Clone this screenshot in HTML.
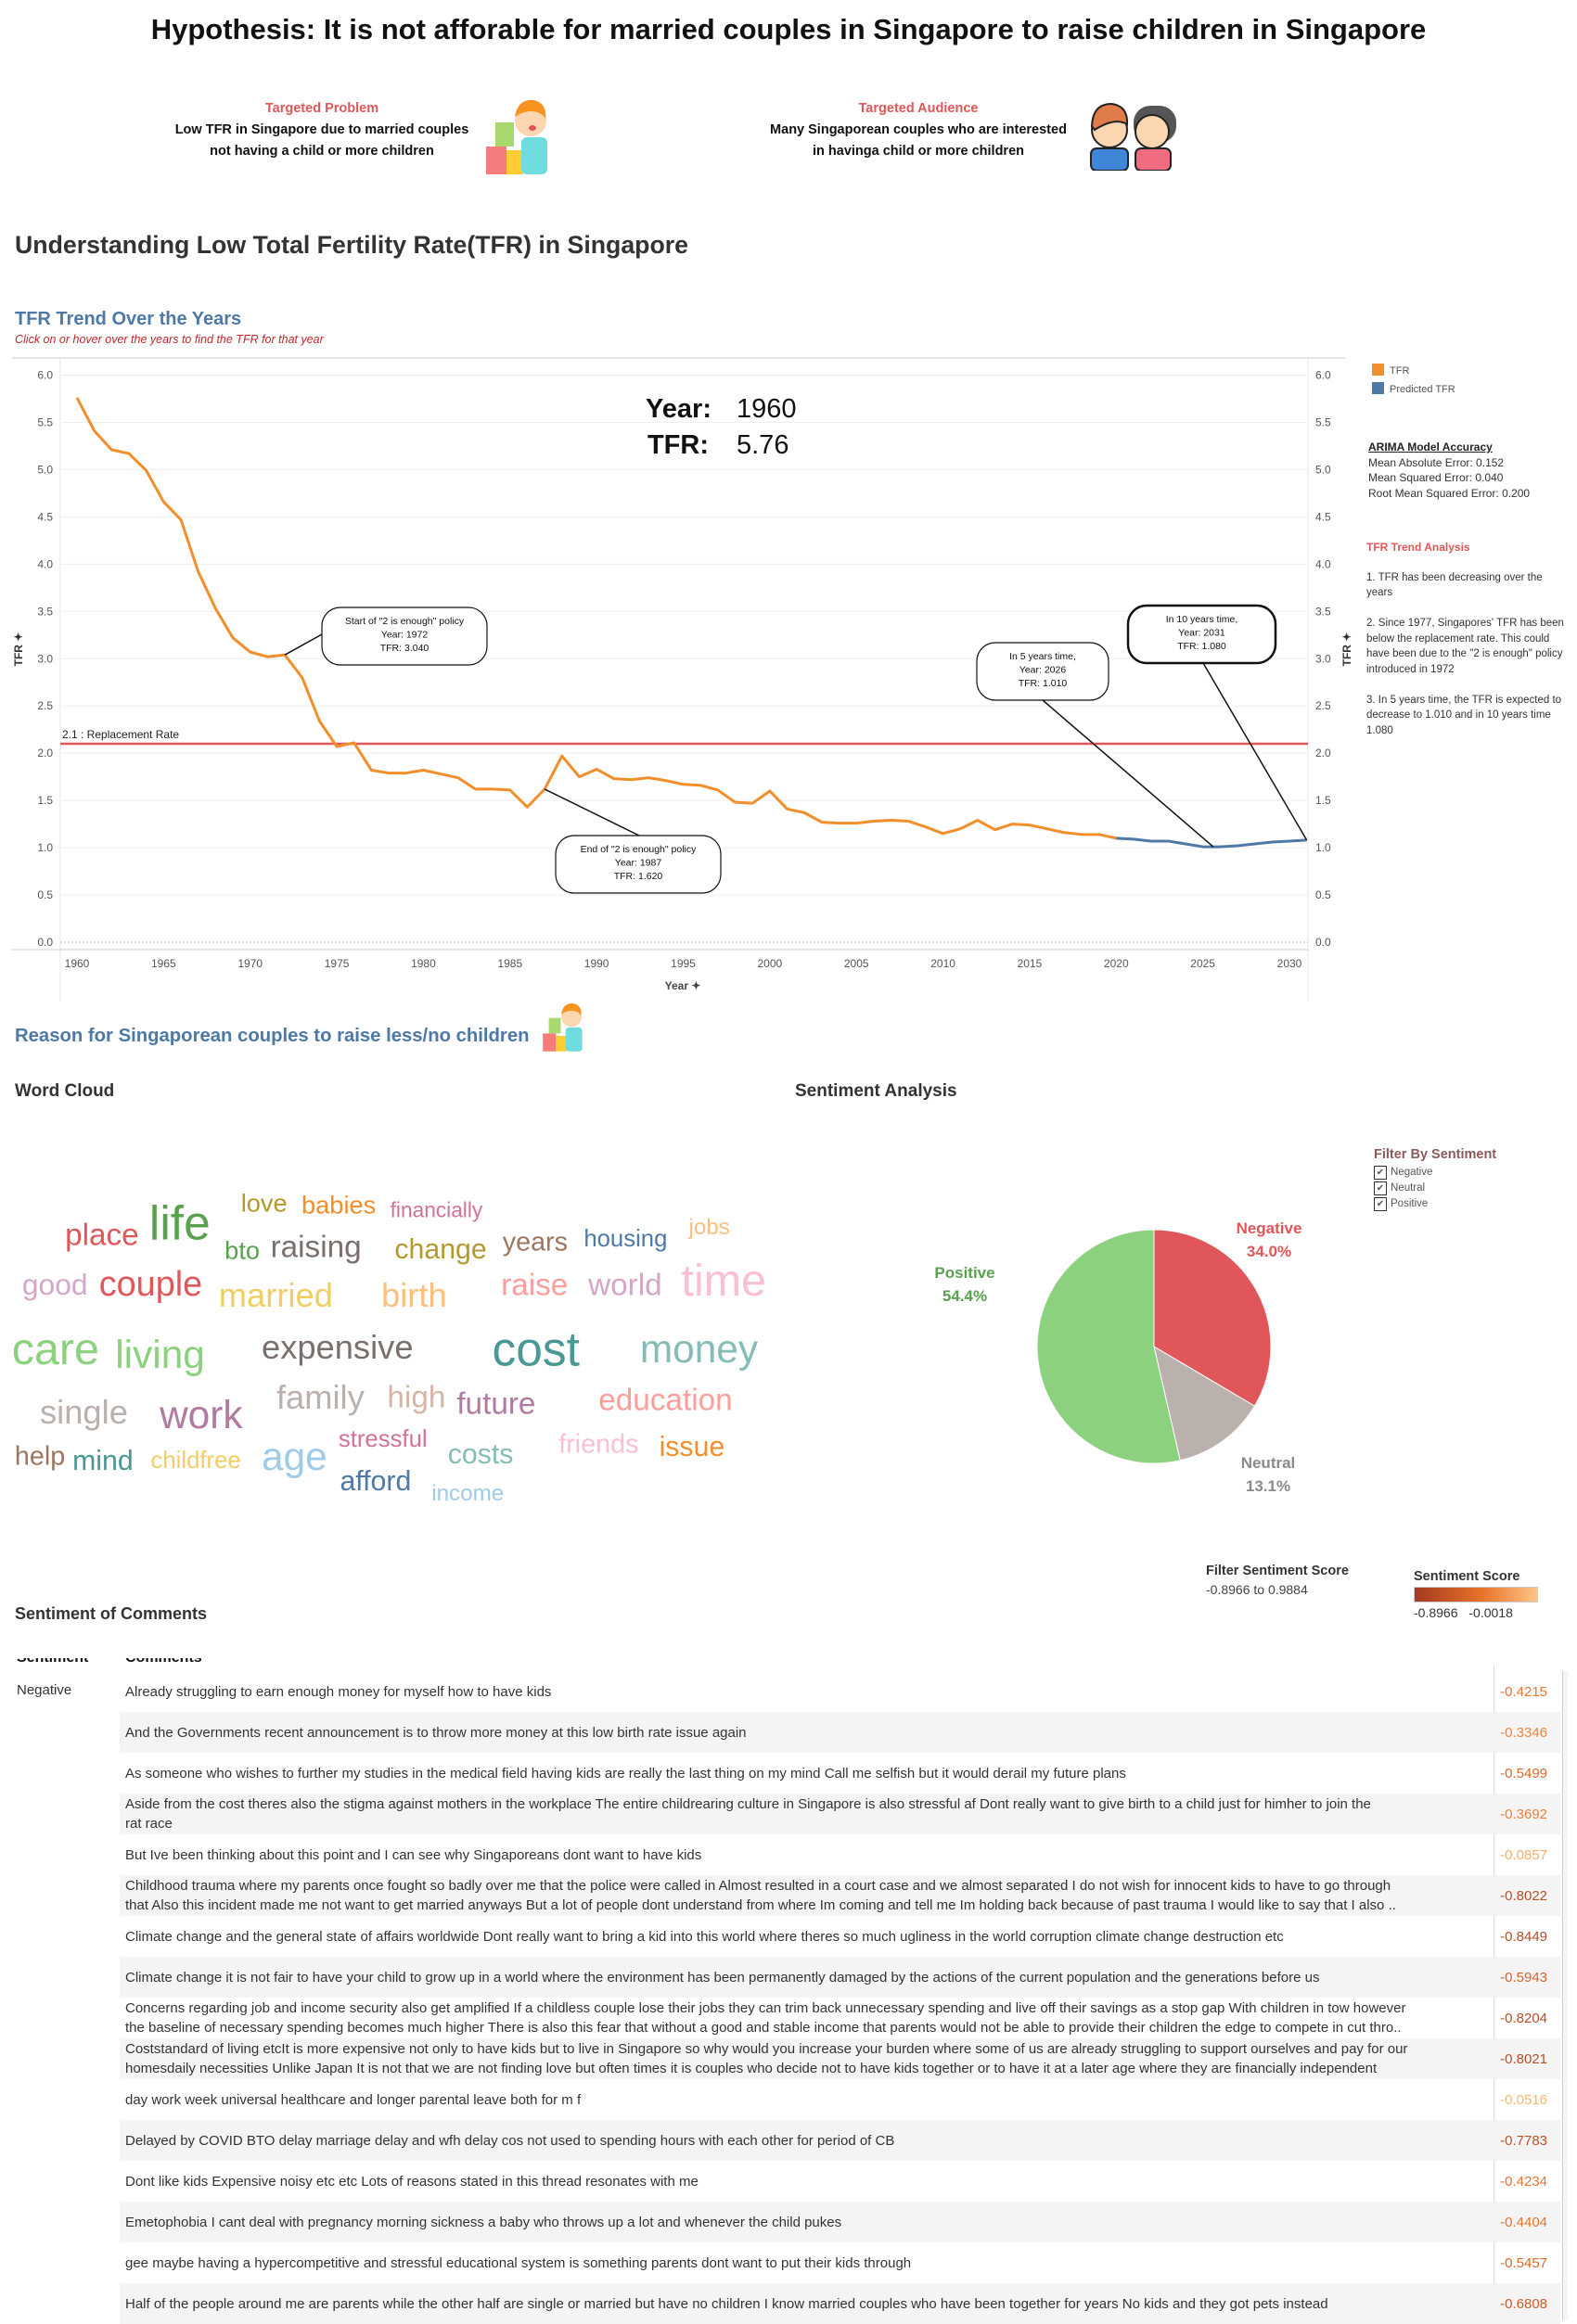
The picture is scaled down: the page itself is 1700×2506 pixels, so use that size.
<!DOCTYPE html>
<html><head><meta charset="utf-8">
<style>
*{margin:0;padding:0;box-sizing:border-box}
body{width:1700px;height:2500px;background:#fff;font-family:"Liberation Sans",sans-serif;position:relative;overflow:hidden;color:#333}
.abs{position:absolute}
.wc{position:absolute;white-space:nowrap;line-height:1;transform:translateY(-50%)}
.row{position:absolute;left:0;width:1682px;height:44px}
.row .txt{position:absolute;left:135px;top:0;height:44px;width:1470px;display:flex;align-items:center;font-size:15px;color:#333;line-height:21px;white-space:nowrap;overflow:hidden}
.row .val{position:absolute;right:14px;top:0;height:44px;display:flex;align-items:center;font-size:15px}
</style></head>
<body>
<div class="abs" style="left:0;top:14px;width:1700px;text-align:center;font-size:31px;font-weight:bold;color:#111">Hypothesis: It is not afforable for married couples in Singapore to raise children in Singapore</div>

<div class="abs" style="left:147px;top:106px;width:400px;text-align:center;font-weight:bold;font-size:14.5px;line-height:23px;color:#111">
<div style="color:#e15759">Targeted Problem</div>
<div>Low TFR in Singapore due to married couples</div><div>not having a child or more children</div></div>
<svg class="abs" style="left:522px;top:100px" width="78" height="90" viewBox="0 0 78 90">
<rect x="2" y="58" width="22" height="30" fill="#f47c7c"/><rect x="24" y="62" width="18" height="26" fill="#ffcc33"/><rect x="12" y="32" width="20" height="26" fill="#a9d86e"/>
<rect x="40" y="48" width="28" height="40" rx="6" fill="#6fdde0"/><circle cx="50" cy="30" r="17" fill="#fcd6b0"/><path d="M33 26 Q36 6 54 8 Q68 12 66 28 Q58 16 40 22Z" fill="#f7931e"/><ellipse cx="52" cy="38" rx="4" ry="3" fill="#e25555"/></svg>

<div class="abs" style="left:770px;top:106px;width:440px;text-align:center;font-weight:bold;font-size:14.5px;line-height:23px;color:#111">
<div style="color:#e15759">Targeted Audience</div>
<div>Many Singaporean couples who are interested</div><div>in havinga child or more children</div></div>
<svg class="abs" style="left:1166px;top:104px" width="106" height="80" viewBox="0 0 106 80">
<rect x="56" y="10" width="46" height="40" rx="18" fill="#555"/><circle cx="76" cy="38" r="18" fill="#fcd6b0" stroke="#222" stroke-width="2"/><rect x="58" y="56" width="38" height="24" rx="6" fill="#f06b7e" stroke="#222" stroke-width="2"/>
<circle cx="30" cy="36" r="19" fill="#fcd6b0" stroke="#222" stroke-width="2"/><path d="M11 32 Q12 8 32 8 Q50 10 49 30 Q36 22 14 36Z" fill="#e07b4a" stroke="#222" stroke-width="2"/><rect x="10" y="56" width="40" height="24" rx="6" fill="#3f86d8" stroke="#222" stroke-width="2"/></svg>

<div class="abs" style="left:16px;top:249px;font-size:26.7px;font-weight:bold;color:#333">Understanding Low Total Fertility Rate(TFR) in Singapore</div>
<div class="abs" style="left:16px;top:333px;font-size:20px;font-weight:bold;color:#4e79a7">TFR Trend Over the Years</div>
<div class="abs" style="left:16px;top:359px;font-size:12.5px;font-style:italic;color:#c0282d">Click on or hover over the years to find the TFR for that year</div>

<svg id="chart" class="abs" style="left:0;top:0" width="1460" height="1090"></svg>

<div class="abs" style="left:1479px;top:390px;font-size:11px;color:#555;line-height:20px">
<div><span style="display:inline-block;width:13px;height:13px;background:#f28e2b;vertical-align:-2px;margin-right:6px"></span>TFR</div>
<div><span style="display:inline-block;width:13px;height:13px;background:#4e79a7;vertical-align:-2px;margin-right:6px"></span>Predicted TFR</div></div>
<div class="abs" style="left:1475px;top:474px;font-size:12px;line-height:16.5px;color:#333">
<div style="text-decoration:underline;font-weight:bold;color:#222">ARIMA Model Accuracy</div>
<div>Mean Absolute Error: 0.152</div><div>Mean Squared Error: 0.040</div><div>Root Mean Squared Error: 0.200</div></div>
<div class="abs" style="left:1473px;top:582px;width:218px;font-size:11.5px;line-height:16.5px;color:#333">
<div style="color:#e15759;font-weight:bold;margin-bottom:16px;font-size:12px">TFR Trend Analysis</div>
<div>1. TFR has been decreasing over the years</div><br>
<div>2. Since 1977, Singapores' TFR has been below the replacement rate. This could have been due to the "2 is enough" policy introduced in 1972</div><br>
<div>3. In 5 years time, the TFR is expected to decrease to 1.010 and in 10 years time 1.080</div></div>

<div class="abs" style="left:16px;top:1106px;font-size:20.3px;font-weight:bold;color:#4e79a7">Reason for Singaporean couples to raise less/no children</div>
<svg class="abs" style="left:583px;top:1077px" width="52" height="58" viewBox="0 0 78 90">
<rect x="2" y="58" width="22" height="30" fill="#f47c7c"/><rect x="24" y="62" width="18" height="26" fill="#ffcc33"/><rect x="12" y="32" width="20" height="26" fill="#a9d86e"/>
<rect x="40" y="48" width="28" height="40" rx="6" fill="#6fdde0"/><circle cx="50" cy="30" r="17" fill="#fcd6b0"/><path d="M33 26 Q36 6 54 8 Q68 12 66 28 Q58 16 40 22Z" fill="#f7931e"/></svg>

<div class="abs" style="left:16px;top:1166px;font-size:19px;font-weight:bold;color:#333">Word Cloud</div>
<div class="abs" style="left:857px;top:1166px;font-size:19px;font-weight:bold;color:#333">Sentiment Analysis</div>

<div id="cloud"></div>

<svg id="pie" class="abs" style="left:1100px;top:1300px" width="320" height="320"></svg>
<div class="abs" style="left:1298px;top:1312px;width:140px;text-align:center;font-weight:bold;font-size:17px;line-height:25px;color:#e15759">Negative<br>34.0%</div>
<div class="abs" style="left:970px;top:1360px;width:140px;text-align:center;font-weight:bold;font-size:17px;line-height:25px;color:#59a14f">Positive<br>54.4%</div>
<div class="abs" style="left:1297px;top:1565px;width:140px;text-align:center;font-weight:bold;font-size:17px;line-height:25px;color:#8a8a8a">Neutral<br>13.1%</div>

<div class="abs" style="left:1481px;top:1237px;font-size:11.5px;color:#555;line-height:17px">
<div style="font-weight:bold;font-size:14.5px;color:#8c5a5a;margin-bottom:2px">Filter By Sentiment</div>
<div><span style="display:inline-block;width:14px;height:15px;border:1px solid #333;font-size:10px;text-align:center;line-height:13px;margin-right:4px">✔</span>Negative</div>
<div><span style="display:inline-block;width:14px;height:15px;border:1px solid #333;font-size:10px;text-align:center;line-height:13px;margin-right:4px">✔</span>Neutral</div>
<div><span style="display:inline-block;width:14px;height:15px;border:1px solid #333;font-size:10px;text-align:center;line-height:13px;margin-right:4px">✔</span>Positive</div></div>

<div class="abs" style="left:1300px;top:1686px;font-size:14.5px;color:#333">
<div style="font-weight:bold">Filter Sentiment Score</div><div style="font-size:14px;margin-top:4px;color:#444">-0.8966 to 0.9884</div></div>
<div class="abs" style="left:1524px;top:1692px;font-size:14px;color:#333">
<div style="font-weight:bold;font-size:14.5px">Sentiment Score</div>
<div style="width:134px;height:17px;margin-top:3px;border:1px solid #ccc;background:linear-gradient(to right,#a3391f,#e8732a 55%,#fdc486)"></div>
<div style="margin-top:3px;word-spacing:8px">-0.8966 -0.0018</div></div>

<div class="abs" style="left:16px;top:1730px;font-size:18px;font-weight:bold;color:#333">Sentiment of Comments</div>

<div class="abs" style="left:0;top:1788px;width:1700px;height:10px;overflow:hidden">
<div style="position:absolute;left:18px;top:-9px;font-weight:bold;font-size:16px;color:#111">Sentiment</div>
<div style="position:absolute;left:135px;top:-9px;font-weight:bold;font-size:16px;color:#111">Comments</div></div>
<div class="abs" style="left:1610px;top:1795px;width:1px;height:705px;background:#ddd"></div>
<div class="abs" style="left:1684px;top:1802px;width:6px;height:700px;border-left:1px solid #ccc;background:#f5f5f5"></div>
<div class="abs" style="left:18px;top:1814px;font-size:15px;color:#333">Negative</div>
<div id="table"></div>

<script>
// ---- TFR chart data ----
const years = [];
for (let y = 1960; y <= 2020; y++) years.push(y);
const tfr = [5.76,5.41,5.21,5.17,4.99,4.66,4.47,3.92,3.53,3.22,3.07,3.02,3.04,2.80,2.34,2.07,2.11,1.82,1.79,1.79,1.82,1.78,1.74,1.62,1.62,1.61,1.43,1.62,1.97,1.75,1.83,1.73,1.72,1.74,1.71,1.67,1.66,1.61,1.48,1.47,1.60,1.41,1.37,1.27,1.26,1.26,1.28,1.29,1.28,1.22,1.15,1.20,1.29,1.19,1.25,1.24,1.20,1.16,1.14,1.14,1.10];
const predYears = [2020,2021,2022,2023,2024,2025,2026,2027,2028,2029,2030,2031];
const predTfr = [1.10,1.09,1.07,1.07,1.04,1.01,1.01,1.02,1.04,1.06,1.07,1.08];
const yTicks = [0,0.5,1,1.5,2,2.5,3,3.5,4,4.5,5,5.5,6];
const yTickLabels = ["0.0","0.5","1.0","1.5","2.0","2.5","3.0","3.5","4.0","4.5","5.0","5.5","6.0"];
const xTicks = [1960,1965,1970,1975,1980,1985,1990,1995,2000,2005,2010,2015,2020,2025,2030];
const replacementRate = 2.1;

const X0 = 65, X1 = 1410, Y0 = 1016, YTOP = 404.5;
function xs(yr){ return 83 + (yr - 1960) * (1390 - 83) / 70; }
function ys(v){ return Y0 - v * (Y0 - YTOP) / 6; }

const NS = "http://www.w3.org/2000/svg";
const svg = document.getElementById('chart');
function mk(tag, attrs, parent){
  const e = document.createElementNS(NS, tag);
  for (const k in attrs) e.setAttribute(k, attrs[k]);
  (parent || svg).appendChild(e);
  return e;
}
let fr = mk('line',{x1:13,y1:386,x2:1450,y2:386,stroke:'#ddd','stroke-width':1.5});
 
let lax = mk('line',{x1:X0,y1:386,x2:X0,y2:1080,stroke:'#e4e4e4','stroke-width':1});
 
let rax = mk('line',{x1:X1,y1:386,x2:X1,y2:1080,stroke:'#e4e4e4','stroke-width':1});
 
let bax = mk('line',{x1:13,y1:1024,x2:X1,y2:1024,stroke:'#ccc','stroke-width':1});
 

yTicks.forEach((v,i)=>{
  const g = mk('line',{x1:X0,y1:ys(v),x2:X1,y2:ys(v),stroke: v===0?'#bbb':'#efefef','stroke-width':1,'stroke-dasharray': v===0?'2,2':''});
   
  const t = mk('text',{x:57,y:ys(v)+4,'text-anchor':'end','font-size':12,fill:'#555'});
  t.textContent = yTickLabels[i];
   
  const t2 = mk('text',{x:1418,y:ys(v)+4,'font-size':12,fill:'#555'});
  t2.textContent = yTickLabels[i];
   
});
xTicks.forEach(yr=>{
  const t = mk('text',{x:xs(yr),y:1043,'text-anchor':'middle','font-size':12,fill:'#555'});
  t.textContent = yr;
   
});
let xt = mk('text',{x:736,y:1067,'text-anchor':'middle','font-size':12,'font-weight':'bold',fill:'#444'});
xt.textContent = 'Year ✦';
 
let yt = mk('text',{x:24,y:700,'text-anchor':'middle','font-size':12,'font-weight':'bold',fill:'#333',transform:'rotate(-90 24 700)'});
yt.textContent = 'TFR ✦';
 
let yt2 = mk('text',{x:1456,y:700,'text-anchor':'middle','font-size':12,'font-weight':'bold',fill:'#333',transform:'rotate(-90 1456 700)'});
yt2.textContent = 'TFR ✦';
 

let rl = mk('line',{x1:X0,y1:ys(replacementRate),x2:X1,y2:ys(replacementRate),stroke:'#e15759','stroke-width':2.5});
 
let rlt = mk('text',{x:67,y:ys(replacementRate)-6,'font-size':12,fill:'#222'});
rlt.textContent = '2.1  : Replacement Rate';
 

const p1 = mk('polyline',{points: years.map((y,i)=>xs(y)+','+ys(tfr[i])).join(' '),fill:'none',stroke:'#f28e2b','stroke-width':3,'stroke-linejoin':'round'});
 
const p2 = mk('polyline',{points: predYears.map((y,i)=>xs(y)+','+ys(predTfr[i])).join(' '),fill:'none',stroke:'#4e79a7','stroke-width':3,'stroke-linejoin':'round'});
 

function bigText(x,y,s,name,anchor){
  const t = mk('text',{x:x,y:y,'font-size':29,'font-weight': anchor==='end'?'bold':'normal',fill:'#111','text-anchor':anchor||'start'});
  t.textContent = s;  
}
bigText(767,450,'Year:','readout-year-label','end');
bigText(794,450,String(years[0]),'readout-year-value');
bigText(764,489,'TFR:','readout-tfr-label','end');
bigText(794,489,tfr[0].toFixed(2),'readout-tfr-value');

function annot(name,bx,by,bw,bh,lines,px,py,lx,ly,bold){
  const l = mk('line',{x1:lx,y1:ly,x2:px,y2:py,stroke:'#111','stroke-width':1.5});
   
  const r = mk('rect',{x:bx,y:by,width:bw,height:bh,rx:20,fill:'#fff',stroke:'#111','stroke-width':bold?2.5:1.2});
   
  lines.forEach((s,i)=>{
    const t = mk('text',{x:bx+bw/2,y:by+18+i*14.5,'text-anchor':'middle','font-size':10.5,fill:'#111'});
    t.textContent = s;  
  });
}
annot('annotation-policy-start',347,655,178,62,['Start of "2 is enough" policy','Year: 1972','TFR:      3.040'],xs(1972),ys(3.04),347,684);
annot('annotation-policy-end',599,901,178,62,['End of "2 is enough" policy','Year: 1987','TFR:      1.620'],xs(1987),ys(1.62),689,901);
annot('annotation-5-years',1053,693,142,62,['In 5 years time,','Year: 2026','TFR: 1.010'],xs(2025.6),ys(1.01),1124,755,false);
annot('annotation-10-years',1216,653,159,62,['In 10 years time,','Year: 2031','TFR: 1.080'],xs(2031),ys(1.08),1297,715,true);

// ---- Word cloud ----
const words = ["place","life","love","babies","financially","bto","raising","change","years","housing","jobs","good","couple","married","birth","raise","world","time","care","living","expensive","cost","money","single","work","family","high","future","education","help","mind","childfree","age","stressful","costs","friends","issue","afford","income"];
const wordSizes = [22,34,18,18,15,18,22,20,19,17,16,21,25,24,24,22,22,32,32,28,24,34,28,24,28,24,22,22,22,19,20,17,28,17,20,19,20,20,16];
const wordColors = ["#e15759","#59a14f","#b6992d","#f28e2b","#d37295","#59a14f","#79706e","#b6992d","#9d7660","#4e79a7","#ffbe7d","#d4a6c8","#e15759","#f1ce63","#ffbe7d","#ff9d9a","#d4a6c8","#fabfd2","#8cd17d","#8cd17d","#79706e","#499894","#86bcb6","#bab0ac","#b07aa1","#bab0ac","#d7b5a6","#b07aa1","#ff9d9a","#9d7660","#499894","#f1ce63","#a0cbe8","#d37295","#86bcb6","#fabfd2","#f28e2b","#4e79a7","#a0cbe8"];
const wordX = [44,101,163,204,264,152,183,267,340,395,466,15,67,148,258,339,398,461,8,78,177,333,433,27,108,187,262,309,405,10,49,102,177,229,303,378,446,230,292];
const wordY = [836,828,814,815,819,846,844,846,841,839,831,870,870,877,877,870,870,867,913,917,912,913,913,956,958,946,946,950,948,986,989,989,986,975,985,978,980,1003,1011];
const cloud = document.getElementById('cloud');
const S = 1700/1067;
words.forEach((w,i)=>{
  const d = document.createElement('div');
  d.className = 'wc';
  
  
  d.style.left = (wordX[i]*S)+'px';
  d.style.top = (wordY[i]*S)+'px';
  d.style.fontSize = (wordSizes[i]*S*0.95)+'px';
  d.style.color = wordColors[i];
  d.textContent = w;
  cloud.appendChild(d);
});

// ---- Pie ----
const pieLabels = ["Negative","Neutral","Positive"];
const pieValues = [34.0,13.1,54.4];
const pieColors = ["#e15759","#bab0ac","#8cd17d"];
const pie = document.getElementById('pie');
const cx = 144, cy = 152, R = 126;
const total = pieValues.reduce((a,b)=>a+b,0);
let ang = 0;
pieValues.forEach((v,i)=>{
  const a0 = ang, a1 = ang + v/total*2*Math.PI; ang = a1;
  const x0 = cx + R*Math.sin(a0), y0 = cy - R*Math.cos(a0);
  const x1 = cx + R*Math.sin(a1), y1 = cy - R*Math.cos(a1);
  const large = (a1-a0) > Math.PI ? 1 : 0;
  const p = document.createElementNS(NS,'path');
  p.setAttribute('d',`M${cx},${cy} L${x0},${y0} A${R},${R} 0 ${large} 1 ${x1},${y1} Z`);
  p.setAttribute('fill',pieColors[i]);
  p.setAttribute('stroke','#fff'); p.setAttribute('stroke-width','1');
  
  
  pie.appendChild(p);
});

// ---- Comments table ----
const comments = [
 ["Already struggling to earn enough money for myself how to have kids"],
 ["And the Governments recent announcement is to throw more money at this low birth rate issue again"],
 ["As someone who wishes to further my studies in the medical field having kids are really the last thing on my mind Call me selfish but it would derail my future plans"],
 ["Aside from the cost theres also the stigma against mothers in the workplace The entire childrearing culture in Singapore is also stressful af Dont really want to give birth to a child just for himher to join the","rat race"],
 ["But Ive been thinking about this point and I can see why Singaporeans dont want to have kids"],
 ["Childhood trauma where my parents once fought so badly over me that the police were called in Almost resulted in a court case and we almost separated I do not wish for innocent kids to have to go through","that Also this incident made me not want to get married anyways But a lot of people dont understand from where Im coming and tell me Im holding back because of past trauma I would like to say that I also .."],
 ["Climate change and the general state of affairs worldwide Dont really want to bring a kid into this world where theres so much ugliness in the world corruption climate change destruction etc"],
 ["Climate change  it is not fair to have your child to grow up in a world where the environment has been permanently damaged by the actions of the current population and the generations before us"],
 ["Concerns regarding job and income security also get amplified If a childless couple lose their jobs they can trim back unnecessary spending and live off their savings as a stop gap With children in tow however","the baseline of necessary spending becomes much higher There is also this fear that without a good and stable income that parents would not be able to provide their children the edge to compete in cut thro.."],
 ["Coststandard of living etcIt is more expensive not only to have kids but to live in Singapore so why would you increase your burden where some of us are already struggling to support ourselves and pay for our","homesdaily necessities Unlike Japan It is not that we are not finding love but often times it is couples who decide not to have kids together or to have it at a later age where they are financially independent"],
 ["day work week universal healthcare and longer parental leave both for m  f"],
 ["Delayed by COVID BTO delay marriage delay and wfh delay cos not used to spending  hours with each other for period of CB"],
 ["Dont like kids Expensive noisy etc etc Lots of reasons stated in this thread resonates with me"],
 ["Emetophobia I cant deal with pregnancy morning sickness a baby who throws up a lot and whenever the child pukes"],
 ["gee maybe having a hypercompetitive and stressful educational system is something parents dont want to put their kids through"],
 ["Half of the people around me are parents while the other half are single or married but have no children I know  married couples who have been together for years No kids and they got pets instead"]
];
const scores = [-0.4215,-0.3346,-0.5499,-0.3692,-0.0857,-0.8022,-0.8449,-0.5943,-0.8204,-0.8021,-0.0516,-0.7783,-0.4234,-0.4404,-0.5457,-0.6808];
const scoreMin = -0.8966, scoreMax = -0.0018;
function lerp(a,b,t){return Math.round(a+(b-a)*t);}
function scoreColor(s){
  let t = (s - scoreMin)/(scoreMax - scoreMin); t = Math.max(0,Math.min(1,t));
  const c0=[175,70,35], c1=[235,120,45], c2=[253,190,122];
  let c = t<0.55 ? c0.map((v,k)=>lerp(v,c1[k],t/0.55)) : c1.map((v,k)=>lerp(v,c2[k],(t-0.55)/0.45));
  return `rgb(${c[0]},${c[1]},${c[2]})`;
}
const table = document.getElementById('table');
comments.forEach((lines,i)=>{
  const r = document.createElement('div');
  r.className = 'row';
  
  
  r.style.top = (1802 + 44*i)+'px';
  if (i % 2 === 1) {
    const b = document.createElement('div');
    b.style.cssText = 'position:absolute;left:129px;top:0;width:1553px;height:44px;background:#f4f4f4';
    
    
    r.appendChild(b);
  }
  const t = document.createElement('div');
  t.className = 'txt';
  
  
  t.innerHTML = '<div>' + lines.join('<br>') + '</div>';
  r.appendChild(t);
  const v = document.createElement('div');
  v.className = 'val';
  
  
  v.style.color = scoreColor(scores[i]);
  v.textContent = scores[i].toFixed(4);
  r.appendChild(v);
  table.appendChild(r);
});
</script>
</body></html>
